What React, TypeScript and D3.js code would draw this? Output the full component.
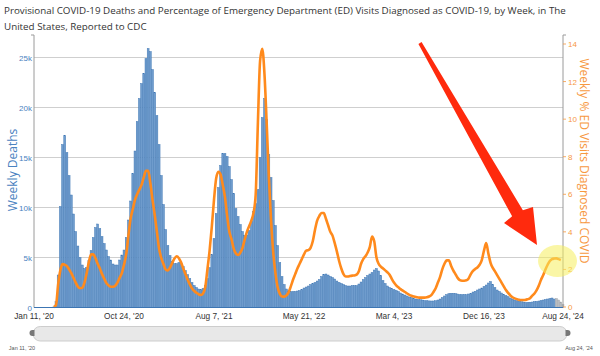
import React from "react";
import * as d3 from "d3";

const titleLines = [
  "Provisional COVID-19 Deaths and Percentage of Emergency Department (ED) Visits Diagnosed as COVID-19, by Week, in The",
  "United States, Reported to CDC",
];

// Weekly deaths, weeks ending Jan 11 2020 ... Aug 24 2024
const deaths: number[] = [
  0, 0, 0, 0, 0, 0, 0, 0, 0,
  60, 580, 3250, 10100, 16300, 17200, 15500, 13200, 11250, 9350, 7600,
  6150, 5000, 4250, 3900, 4000, 4700, 5700, 7000, 8000, 8350,
  7900, 7100, 6400, 5750, 5100, 4750, 4350, 4250, 4250, 4750,
  5250, 5750, 7000, 8750, 10650, 13400, 15650, 18600, 20900, 22400,
  23400, 24900, 25900, 25600, 23800, 21500, 19200, 16300, 13200, 10300,
  7800, 6200, 5200, 4600, 4400, 4400, 4500, 4400, 4100, 3700,
  3300, 2900, 2500, 2200, 2000, 1850, 1800, 1900, 2200, 2900,
  4000, 5300, 6900, 9400, 12000, 14200, 15400, 15400, 15100, 14100,
  12800, 11400, 9900, 9100, 8300, 7600, 7200, 7250, 7700, 8600,
  9600, 10400, 11800, 15000, 19000, 20900, 18800, 15300, 13000, 10700,
  8200, 6200, 4500, 3100, 2300, 1850, 1650, 1600, 1600, 1600,
  1650, 1700, 1800, 1950, 2050, 2150, 2300, 2400, 2500, 2650,
  2800, 3100, 3300, 3350, 3250, 3100, 3000, 2850, 2650, 2500,
  2400, 2300, 2200, 2150, 2150, 2200, 2200, 2200, 2350, 2550,
  2800, 3000, 3200, 3350, 3500, 3750, 3900, 3650, 3200, 2700,
  2400, 2150, 2000, 1900, 1800, 1700, 1600, 1450, 1350, 1250,
  1150, 1050, 1000, 900, 850, 800, 780, 750, 700, 680,
  660, 650, 650, 680, 750, 850, 1000, 1150, 1300, 1380,
  1420, 1420, 1400, 1350, 1300, 1280, 1300, 1280, 1350, 1420,
  1550, 1620, 1750, 1850, 1950, 2100, 2250, 2450, 2600, 2300,
  2000, 1750, 1600, 1450, 1300, 1200, 1080, 950, 850, 750,
  680, 620, 580, 550, 520, 520, 530, 550, 600, 620,
  650, 700, 750, 800, 850, 900, 950, 850, 900, 750,
  550, 300,
];

// Index from which the weekly counts are still incomplete (drawn grey)
const incompleteFrom = 238;

// Weekly % of ED visits diagnosed as COVID
const edPct: (number | null)[] = [
  null, null, null, null, null, null, null, null, null,
  0.0, 0.1, 1.2, 1.95, 2.28, 2.25, 2.18, 2.0, 1.8, 1.55, 1.3,
  1.08, 1.0, 1.02, 1.3, 1.8, 2.4, 2.8, 2.8, 2.6, 2.3,
  2.05, 1.75, 1.5, 1.27, 1.15, 1.08, 1.08, 1.13, 1.3, 1.55,
  1.8, 2.25, 2.8, 3.8, 4.7, 5.2, 5.7, 6.0, 6.25, 6.5,
  6.9, 7.25, 7.25, 6.6, 5.7, 4.9, 4.0, 3.1, 2.6, 2.28,
  2.0, 1.95, 2.1, 2.35, 2.58, 2.7, 2.6, 2.38, 2.05, 1.75,
  1.45, 1.2, 0.98, 0.85, 0.76, 0.68, 0.64, 0.72, 1.05, 2.0,
  3.0, 4.26, 5.7, 6.85, 7.2, 7.05, 6.5, 5.85, 4.85, 4.0,
  3.6, 3.1, 2.85, 2.77, 2.9, 3.15, 3.6, 4.0, 4.3, 4.6,
  5.0, 6.0, 9.8, 13.1, 13.75, 12.4, 9.8, 6.9, 4.6, 2.9,
  1.8, 1.05, 0.7, 0.56, 0.55, 0.62, 0.78, 1.1, 1.45, 1.75,
  2.05, 2.3, 2.55, 2.8, 3.0, 3.03, 3.15, 3.5, 4.1, 4.6,
  4.85, 5.0, 5.0, 4.7, 4.35, 4.0, 3.8, 3.4, 2.95, 2.45,
  2.05, 1.75, 1.62, 1.62, 1.65, 1.67, 1.68, 1.72, 1.9, 2.3,
  2.55, 2.7, 2.9, 3.2, 3.75, 3.5, 2.65, 2.3, 2.15, 2.05,
  1.95, 1.85, 1.72, 1.5, 1.3, 1.15, 1.05, 0.95, 0.87, 0.8,
  0.72, 0.65, 0.6, 0.56, 0.53, 0.51, 0.5, 0.5, 0.5, 0.52,
  0.56, 0.63, 0.8, 1.0, 1.3, 1.6, 2.0, 2.3, 2.48, 2.48,
  2.2, 1.95, 1.75, 1.55, 1.43, 1.4, 1.4, 1.42, 1.52, 1.75,
  1.92, 2.02, 2.1, 2.25, 2.5, 3.0, 3.4, 2.85, 2.35, 2.08,
  1.9, 1.7, 1.5, 1.3, 1.1, 0.9, 0.75, 0.62, 0.52, 0.46,
  0.42, 0.38, 0.37, 0.37, 0.38, 0.42, 0.47, 0.6, 0.72, 0.9,
  1.15, 1.45, 1.7, 2.0, 2.25, 2.45, 2.55, 2.58, 2.59, 2.55,
  2.5, null,
];

const xTickWeeks = [0, 41, 82, 123, 164, 205, 241];
const xTickLabels = ["Jan 11, '20", "Oct 24, '20", "Aug 7, '21", "May 21, '22", "Mar 4, '23", "Dec 16, '23", "Aug 24, '24"];
const leftTicks = [0, 5000, 10000, 15000, 20000, 25000];
const leftTickLabels = ["0", "5k", "10k", "15k", "20k", "25k"];
const rightTicks = [0, 2, 4, 6, 8, 10, 12, 14];
const sliderLabels = ["Jan 11, '20", "Aug 24, '24"];

const W = 600;
const H = 356;
const plotL = 34;
const plotR = 563;
const plotTop = 35;
const plotBottom = 307.5;

const BLUE = "#4a82c0";
const ORANGE = "#f7983f";
const LINE = "#ff8a1c";

export default function App() {
  const n = deaths.length;
  const x = d3.scaleLinear().domain([0, n - 1]).range([plotL, plotR]);
  const yL = d3.scaleLinear().domain([0, 25000]).range([plotBottom, 57.5]);
  const yR = d3.scaleLinear().domain([0, 14]).range([307, 44]);
  const bw = x(1) - x(0);

  const line = d3
    .line<number | null>()
    .defined((d) => d !== null)
    .x((_, i) => x(i))
    .y((d) => yR(d as number))
    .curve(d3.curveMonotoneX);

  // arrow geometry (annotation)
  const a0: [number, number] = [420, 43];
  const barbL: [number, number] = [504, 223];
  const barbR: [number, number] = [533, 207];
  const tip: [number, number] = [537, 245];
  const base: [number, number] = [(barbL[0] + barbR[0]) / 2, (barbL[1] + barbR[1]) / 2];
  const dx = base[0] - a0[0];
  const dy = base[1] - a0[1];
  const len = Math.hypot(dx, dy);
  const ux = dx / len, uy = dy / len;
  const px = uy, py = -ux;
  const w0 = 1.8, w1 = 6.2;
  const b = [base[0] - ux * 2, base[1] - uy * 2];
  const arrowPts = [
    [a0[0] - px * w0, a0[1] - py * w0],
    [b[0] - px * w1, b[1] - py * w1],
    barbL,
    tip,
    barbR,
    [b[0] + px * w1, b[1] + py * w1],
    [a0[0] + px * w0, a0[1] + py * w0],
  ]
    .map((p) => p.join(","))
    .join(" ");

  return (
    <svg
      width={W}
      height={H}
      style={{ position: "absolute", left: 0, top: 0, background: "#fff" }}
      fontFamily="'Open Sans', sans-serif"
    >
      {titleLines.map((t, i) => (
        <text key={i} x={4} y={14 + i * 16} fontSize={9.8} fill="#333">
          {t}
        </text>
      ))}

      {/* grid */}
      {leftTicks.slice(1).map((t) => (
        <line key={t} x1={plotL} x2={plotR} y1={yL(t)} y2={yL(t)} stroke="#cfcfcf" strokeWidth={1} />
      ))}

      {/* bars */}
      {deaths.map((d, i) => (
        <rect
          key={i}
          x={x(i) - bw / 2 + 0.15}
          y={yL(d)}
          width={bw - 0.3}
          height={plotBottom - yL(d)}
          fill={i >= incompleteFrom ? "#b9bcc0" : "#6f9ccd"}
          stroke={i >= incompleteFrom ? "#a0a4a8" : "#3c75b3"}
          strokeWidth={0.45}
        />
      ))}

      {/* ED line */}
      <path d={line(edPct) || ""} fill="none" stroke={LINE} strokeWidth={2.6} strokeLinejoin="round" />

      {/* axes */}
      <line x1={plotL} x2={plotL} y1={plotTop} y2={plotBottom} stroke="#9a9a9a" />
      <line x1={plotR} x2={plotR} y1={plotTop} y2={plotBottom} stroke="#9a9a9a" />
      <line x1={plotL} x2={plotR} y1={plotBottom} y2={plotBottom} stroke="#3c75b3" />
      <line x1={plotL - 3} x2={plotL} y1={plotTop} y2={plotTop} stroke="#9a9a9a" />
      <line x1={plotR} x2={plotR + 3} y1={plotTop} y2={plotTop} stroke="#9a9a9a" />

      {leftTicks.map((t, i) => (
        <text
          key={t}
          x={plotL - 2}
          y={yL(t) + 3}
          textAnchor="end"
          fontSize={8}
          fontFamily="'Liberation Sans', Arial, sans-serif"
          fill={BLUE}
        >
          {leftTickLabels[i]}
        </text>
      ))}
      {rightTicks.map((t) => (
        <g key={t}>
          <line x1={plotR} x2={plotR + 3} y1={yR(t)} y2={yR(t)} stroke={ORANGE} strokeWidth={0.8} />
          <text
            x={plotR + 5}
            y={yR(t) + 3}
            fontSize={8}
            fontFamily="'Liberation Sans', Arial, sans-serif"
            fill={ORANGE}
          >
            {t}
          </text>
        </g>
      ))}
      {xTickWeeks.map((w, i) => (
        <text
          key={w}
          x={x(w)}
          y={319}
          textAnchor="middle"
          fontSize={8.3}
          fontFamily="'Liberation Sans', Arial, sans-serif"
          fill="#333"
        >
          {xTickLabels[i]}
        </text>
      ))}

      {/* axis titles */}
      <text transform="translate(17,170) rotate(-90)" textAnchor="middle" fontSize={12} fill={BLUE}>
        Weekly Deaths
      </text>
      <text transform="translate(580,161) rotate(90)" textAnchor="middle" fontSize={12} fill={ORANGE}>
        Weekly % ED Visits Diagnosed COVID
      </text>

      {/* slider */}
      <rect x={33} y={326.5} width={534} height={14.5} rx={7.2} fill="#e8e8e8" stroke="#cdcdcd" />
      <path d="M34.5,330 L32.5,330 A3,3 0 0 0 32.5,336 L34.5,336 Z" fill="#777" />
      <path d="M565.5,330 L567.5,330 A3,3 0 0 1 567.5,336 L565.5,336 Z" fill="#777" />
      <text x={22} y={349.5} textAnchor="middle" fontSize={5.5} fill="#555" fontFamily="'Liberation Sans', Arial, sans-serif">
        {sliderLabels[0]}
      </text>
      <text x={579} y={349.5} textAnchor="middle" fontSize={5.5} fill="#555" fontFamily="'Liberation Sans', Arial, sans-serif">
        {sliderLabels[1]}
      </text>

      {/* highlight */}
      <ellipse cx={557.5} cy={261} rx={19.5} ry={16} fill="#f6ef5c" opacity={0.55} />

      {/* arrow */}
      <polygon points={arrowPts} fill="#ff2a0d" />
    </svg>
  );
}
